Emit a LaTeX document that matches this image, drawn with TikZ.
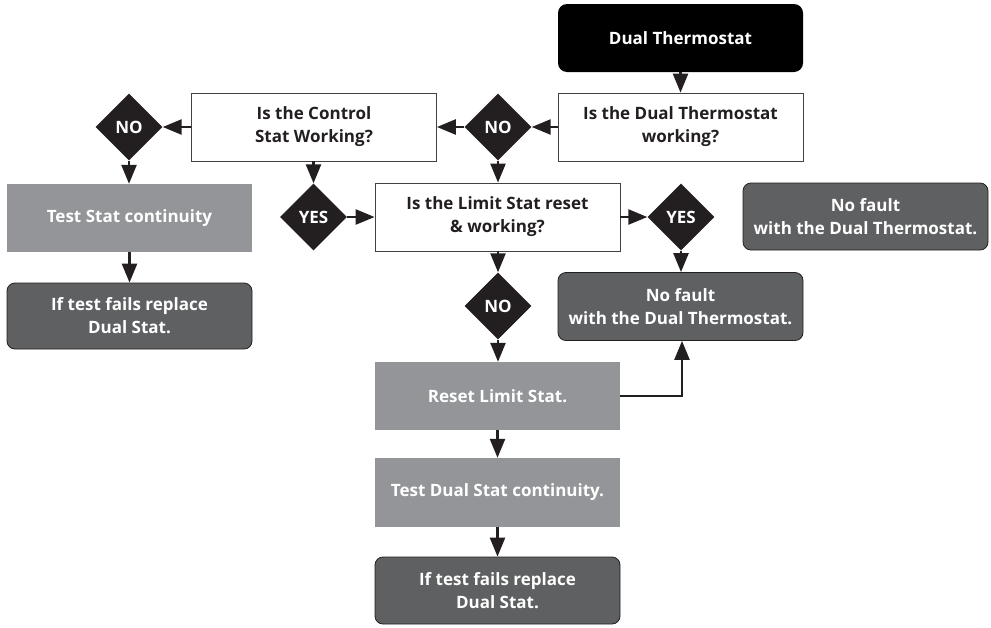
\documentclass[tikz,border=0pt]{standalone}
\usepackage{fontspec}
\setmainfont{Open Sans}
\usetikzlibrary{shapes.geometric,arrows.meta}
\definecolor{ink}{HTML}{231F20}
\definecolor{midgray}{HTML}{939598}
\definecolor{darkgray}{HTML}{5F6062}

\begin{document}
\begin{tikzpicture}[x=1pt,y=-1pt,
  box/.style={rectangle, minimum width=245pt, minimum height=68pt, inner sep=0pt,
    align=center, font=\bfseries\fontsize{17}{23}\selectfont},
  question/.style={box, draw=ink!85, line width=0.8pt, fill=white, text=ink},
  action/.style={box, fill=midgray, text=white},
  result/.style={box, rounded corners=8pt, fill=darkgray, draw=ink, line width=0.8pt, text=white},
  startbox/.style={box, rounded corners=9pt, fill=black, text=white},
  decision/.style={diamond, fill=ink, minimum width=67pt, minimum height=67pt, inner sep=0pt,
    text=white, font=\bfseries\fontsize{17}{17}\selectfont},
  flow/.style={line width=2.5pt, draw=ink, -{Triangle[width=15pt,length=19pt]}},
]
\useasboundingbox (0,0) rectangle (991,627);

% main column on the right
\node[startbox] (dual) at (680.5,38) {Dual Thermostat};
\node[question] (q1) at (680.5,127) {Is the Dual Thermostat\\working?};
\node[decision] (noA) at (498,127) {NO};
\node[question] (ctrl) at (314,127) {Is the Control\\Stat Working?};

% left branch
\node[decision] (noB) at (129,127) {NO};
\node[action] (test1) at (129.5,218) {Test Stat continuity};
\node[result, minimum height=66pt] (fail1) at (129.5,316) {If test fails replace\\Dual Stat.};

% limit stat branch
\node[decision] (yes1) at (313.5,217) {YES};
\node[question] (limit) at (497.5,217) {Is the Limit Stat reset\\\& working?};
\node[decision] (yes2) at (681,217) {YES};
\node[result] (nofault) at (680.5,306.5) {No fault\\with the Dual Thermostat.};
\node[result, minimum height=67pt] (nofault2) at (865.5,216.5) {No fault\\with the Dual Thermostat.};
\node[decision] (noC) at (498,306) {NO};
\node[action] (reset) at (497.5,396) {Reset Limit Stat.};
\node[action, minimum height=69pt] (test2) at (497.5,492.5) {Test Dual Stat continuity.};
\node[result, minimum height=67pt] (fail2) at (497.5,590.5) {If test fails replace\\Dual Stat.};

% connectors
\draw[flow] (dual) -- (q1);
\draw[flow] (q1) -- (noA);
\draw[flow] (noA) -- (ctrl);
\draw[flow] (ctrl) -- (noB);
\draw[flow] (noB.south) -- (noB.south |- test1.north);
\draw[flow] (test1.south -| fail1) -- (fail1.north);
\draw[flow] (yes1 |- ctrl.south) -- (yes1.north);
\draw[flow] (yes1) -- (limit);
\draw[flow] (noA.south) -- (noA.south |- limit.north);
\draw[flow] (limit) -- (yes2);
\draw[flow] (yes2.south) -- (yes2.south |- nofault.north);
\draw[flow] (noC |- limit.south) -- (noC.north);
\draw[flow] (noC.south) -- (noC.south |- reset.north);
\draw[flow] (reset.east) -| ([xshift=1.5pt]nofault.south);
\draw[flow] (reset) -- (test2);
\draw[flow] (test2) -- (fail2);
\end{tikzpicture}
\end{document}
